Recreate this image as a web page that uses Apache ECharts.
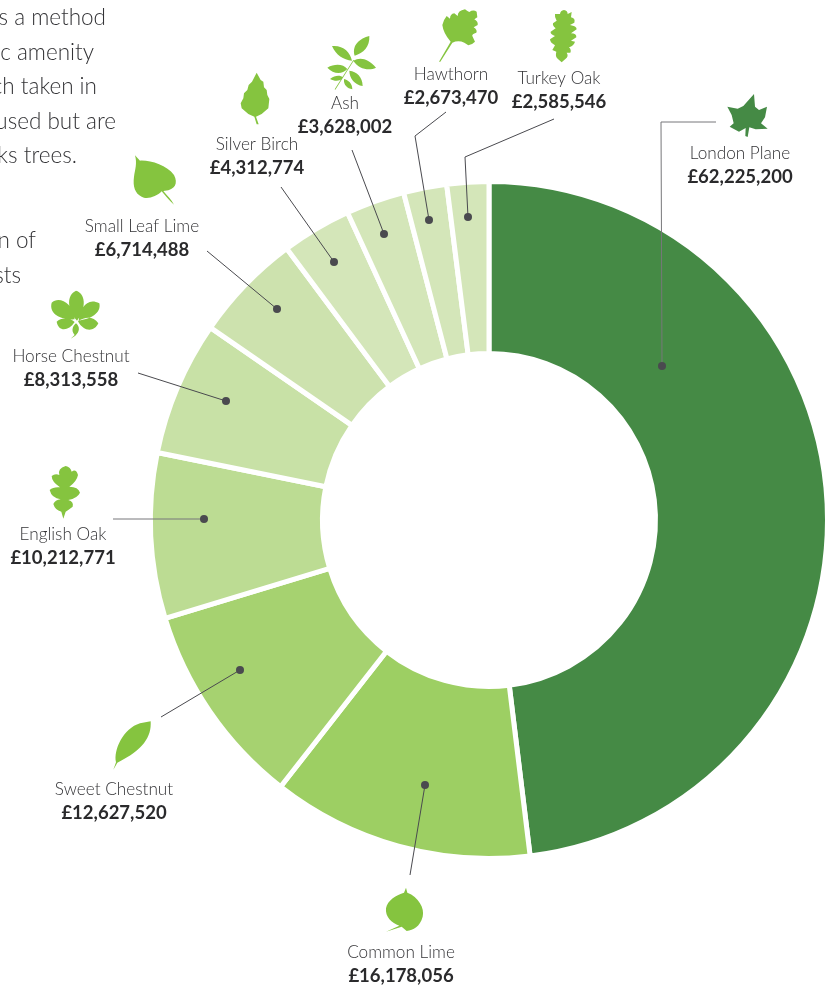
<!DOCTYPE html>
<html><head><meta charset="utf-8">
<style>html,body{margin:0;padding:0;background:#fff}#c{width:830px;height:990px}</style>
<script src="https://cdn.jsdelivr.net/npm/echarts@6/dist/echarts.min.js"></script>
</head><body><div id="c"></div>
<script>
// Data
const species = ['London Plane','Common Lime','Sweet Chestnut','English Oak','Horse Chestnut','Small Leaf Lime','Silver Birch','Ash','Hawthorn','Turkey Oak'];
const amenityValues = [62225200,16178056,12627520,10212771,8313558,6714488,4312774,3628002,2673470,2585546];
const sliceColors = ['#458a45','#9dcf63','#a6d270','#bcdc93','#c8e1a6','#cde2ae','#d4e6b9','#d4e6b9','#d4e6b9','#d4e6b9'];
const paragraphLines = [['s a method',106,18],['c amenity',94,53],['ch taken in',97,87],['used but are',116,122],['ks trees.',77,156],['n of',36,241],['sts',21,276]];

// Annotation layout (label centre, leader polyline ending at the dot)
const labelAt = [[740,153],[401,952],[114,789],[63,534],[71,356],[142,226],[257,144],[345,103],[451,74],[559,78]];
const leaders = [
 [[716,122],[661,122],[662,366]],
 [[410,875],[425,785]],
 [[161,717],[240,670]],
 [[113,519],[204,519]],
 [[138,373],[226,401]],
 [[207,251],[277,309]],
 [[281,187],[334,262]],
 [[352,150],[384,234]],
 [[446,112],[415,136],[429,220]],
 [[554,119],[465,157],[468,217]]
];
const LEAF='#85c43f', PLANE='#458a45';
// Leaf outlines, traced at 3x with a page offset
const leaves = [
 {o:[415,0],c:PLANE,d:'M1017,282 L1020,320 L1032,330 L1056,320 L1050,352 L1038,370 L1058,386 L1022,388 L1003,382 L998,411 L991,408 L992,384 L972,395 L944,380 L956,370 L950,345 L937,320 L968,326 L985,318 Z'},
 {o:[30,700],c:LEAF,d:'M1128,563 L1132,578 C1165,590 1185,625 1178,650 C1170,680 1150,690 1130,693 L1115,680 L1068,695 L1108,677 C1085,670 1065,650 1068,625 C1072,600 1100,585 1122,578 Z'},
 {o:[30,700],c:LEAF,d:'M362,64 C365,110 340,150 262,188 L250,209 L258,187 C250,150 280,85 330,70 Z'},
 {o:[0,280],c:LEAF,d:'M197,558 Q212,562 215,575 Q228,565 234,585 Q230,605 208,620 Q235,620 240,638 Q232,655 205,660 Q222,665 218,680 Q205,690 197,695 L190,716 L184,695 Q165,690 160,672 Q165,660 182,658 Q155,655 149,630 Q160,620 180,622 Q155,605 155,588 Q165,580 178,585 Q172,565 197,558 Z'},
 {o:[0,280],c:LEAF,d:'M228,32 C255,40 262,80 231,122 C200,85 200,45 228,32 Z M298,70 C305,100 270,118 236,122 C240,85 262,50 298,70 Z M155,68 C175,48 218,65 224,118 C190,120 145,105 155,68 Z M170,125 C185,110 212,115 224,126 C205,155 175,155 170,125 Z M295,130 C280,108 255,110 234,124 C250,155 282,158 295,130 Z M212,176 L224,165 C210,150 222,135 228,130 C240,140 240,155 226,167 Z'},
 {o:[0,0],c:LEAF,d:'M405,466 L420,482 C450,480 500,495 522,525 C535,550 525,570 495,572 L490,573 C500,585 515,600 522,614 C505,600 495,585 485,574 C470,590 440,600 425,590 C405,580 398,560 402,530 C405,510 412,490 405,466 Z'},
 {o:[0,0],c:LEAF,d:'M770,218 L782,240 L790,245 L792,262 L800,270 L802,285 L808,297 L805,325 L785,342 L768,350 L776,373 L770,373 L763,350 L745,342 L725,325 L722,310 L730,295 L732,280 L742,270 L746,255 L756,245 Z'},
 {o:[0,0],c:LEAF,d:'M1108,108 C1110,140 1090,160 1064,167 C1055,135 1080,115 1108,108 Z M996,138 C1030,135 1050,155 1056,182 C1030,180 1008,165 996,138 Z M1128,203 C1105,175 1080,170 1060,182 C1075,205 1105,215 1128,203 Z M982,203 C1005,190 1030,192 1042,207 C1025,225 1000,222 982,203 Z M1088,258 C1088,230 1070,215 1048,212 C1048,235 1065,255 1088,258 Z M990,237 C1005,225 1020,225 1030,232 C1020,245 1005,245 990,237 Z M1057,268 C1057,250 1045,240 1032,237 C1030,255 1042,265 1057,268 Z M1004,268 L1060,180 L1062,181 L1006,269 Z'},
 {o:[415,0],c:LEAF,d:'M72,185 L107,125 Q85,100 82,75 Q85,60 95,48 L105,56 Q105,42 118,40 L128,48 Q128,32 150,28 Q158,34 163,36 Q175,28 185,35 L187,52 L178,58 Q190,65 188,75 L176,82 Q188,90 184,98 Q170,102 172,108 L180,125 Q170,135 160,136 L148,128 Q130,120 112,128 L76,185 Z'},
 {o:[415,0],c:LEAF,d:'M447,30 Q458,32 458,42 L470,36 L468,52 Q482,55 478,68 L465,75 Q485,78 485,88 L468,100 Q485,100 484,112 L468,122 L480,125 Q476,138 462,142 Q470,150 466,158 L455,158 Q462,168 452,176 L440,187 L428,176 Q420,170 424,155 L412,150 L420,136 Q405,128 405,118 L420,108 Q405,102 407,95 L422,85 Q412,78 414,70 L425,62 Q418,50 420,42 L435,42 Q436,32 447,30 Z'}
];

const FONT='Lato';
const chart=echarts.init(document.getElementById('c'),null,{renderer:'canvas'});
chart.setOption({
  animation:false,
  backgroundColor:'#fff',
  graphic:paragraphLines.map(l=>({type:'text',x:l[1],y:l[2],style:{text:l[0],align:'right',verticalAlign:'middle',font:'300 22.5px '+FONT,fill:'#333336'},silent:true})),
  series:[{
    type:'pie',silent:true,
    center:[489,520],radius:[166.5,338.5],startAngle:90,clockwise:true,
    avoidLabelOverlap:false,
    itemStyle:{borderColor:'#fff',borderWidth:5},
    data:species.map((n,i)=>({name:n,value:amenityValues[i],itemStyle:{color:sliceColors[i]}})),
    labelLine:{show:false},
    label:{show:true,position:'outside',
      formatter:p=>'{n|'+p.name+'}\n{v|£'+p.value.toLocaleString('en-GB')+'}',
      rich:{
        n:{fontFamily:FONT,fontWeight:300,fontSize:17.2,color:'#333336',lineHeight:23.5,align:'center'},
        v:{fontFamily:FONT,fontWeight:700,fontSize:18.5,color:'#2a2a2c',lineHeight:24,align:'center'}
      }},
    labelLayout:p=>({x:labelAt[p.dataIndex][0],y:labelAt[p.dataIndex][1]+12,align:'center',verticalAlign:'middle'})
  },{
    type:'custom',coordinateSystem:'none',silent:true,z:5,clip:false,
    data:leaves.map((l,i)=>i),
    renderItem:(params)=>{
      const l=leaves[params.dataIndex];
      return {type:'path',x:l.o[0],y:l.o[1],scaleX:1/3,scaleY:1/3,shape:{pathData:l.d},style:{fill:l.c}};
    }
  },{
    type:'custom',coordinateSystem:'none',silent:true,z:6,clip:false,
    data:leaders.map((l,i)=>i),
    renderItem:(params)=>{
      const i=params.dataIndex,p=leaders[i],e=p[p.length-1];
      return {type:'group',children:[
        {type:'polyline',shape:{points:p},style:{fill:null,stroke:(i===0||i===3)?'#77777a':'#4a4a4f',lineWidth:1}},
        {type:'circle',shape:{cx:e[0],cy:e[1],r:4},style:{fill:'#4a4a4f'}}
      ]};
    }
  }]
});
</script></body></html>
